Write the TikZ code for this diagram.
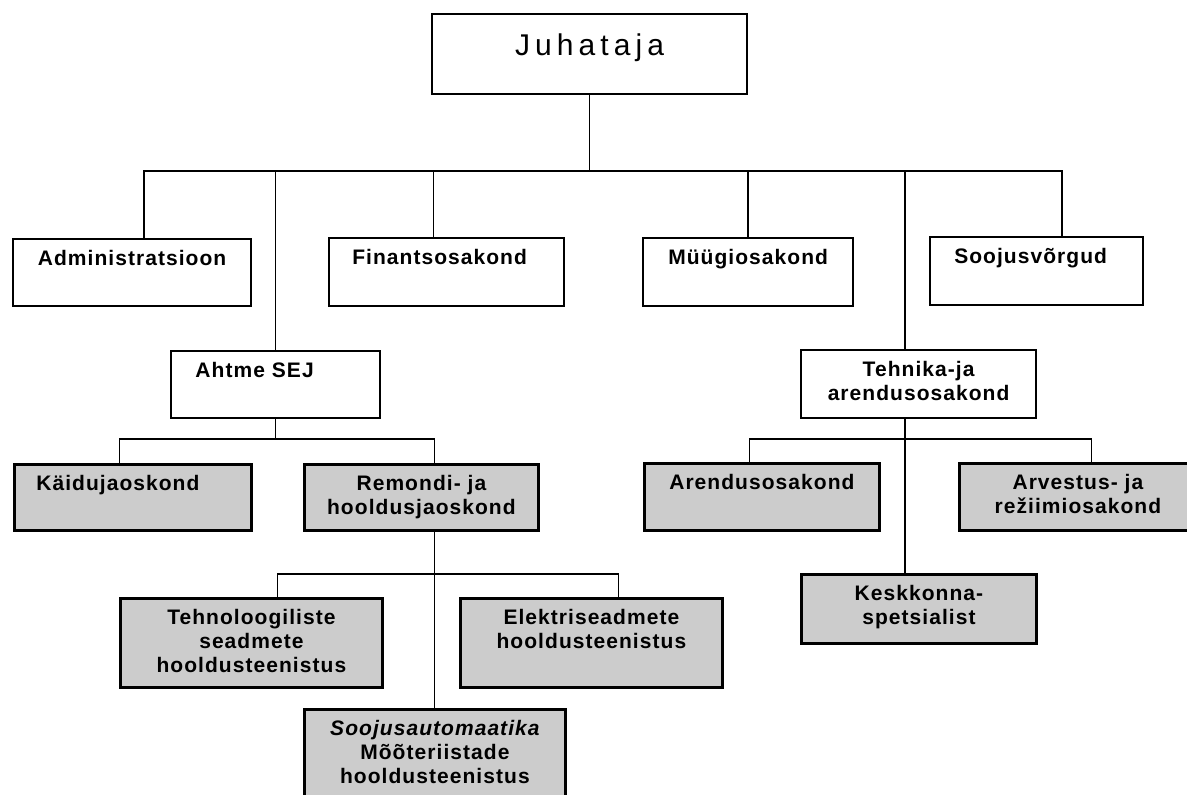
\documentclass[tikz,border=0pt]{standalone}
\usepackage{fontspec}
\setmainfont{Liberation Sans}
\newfontfamily\boxfont{Liberation Sans}[LetterSpace=5]
\newfontfamily\headfont{Liberation Sans}[LetterSpace=17]
\usepackage{tikz}
\definecolor{dither}{gray}{0.80}

\begin{document}
\begin{tikzpicture}[
  x=0.5pt, y=-0.5pt,
  sz/.style 2 args={minimum width=#1*0.5pt, minimum height=#2*0.5pt},
  wbox/.style={draw, line width=1.1pt, fill=white, anchor=north west, inner sep=0pt},
  gbox/.style={wbox, fill=dither, line width=1.4pt},
  txt/.style={anchor=north, inner sep=0pt, align=center,
              font=\boxfont\bfseries\fontsize{10.5}{12}\selectfont},
  conn/.style={line width=0.8pt}
]
  \useasboundingbox (0,0) rectangle (1187,794);
  \clip (0,0) rectangle (1187,794);

  % juhataja
  \node[wbox, sz={315}{80}] (juh) at (431,13) {};
  \node[anchor=north, inner sep=0pt, font=\headfont\fontsize{15}{18}\selectfont]
    (juh-t) at ([yshift=-10pt]juh.north) {Juhataja};

  % first level
  \node[wbox, sz={238}{67}] (adm) at (12,238) {};
  \node[wbox, sz={235}{68}] (fin) at (328,237) {};
  \node[wbox, sz={210}{68}] (myy) at (642,237) {};
  \node[wbox, sz={213}{68}] (soo) at (929,236) {};
  \node[wbox, sz={209}{67}] (aht) at (170,350) {};
  \node[wbox, sz={235}{68}] (teh) at (800,349) {};
  \node[txt] (adm-t) at ([yshift=-6pt]adm.north) {Administratsioon};
  \node[txt] (fin-t) at ([xshift=-3.5pt, yshift=-6pt]fin.north) {Finantsosakond};
  \node[txt] (myy-t) at ([yshift=-6pt]myy.north) {Müügiosakond};
  \node[txt] (soo-t) at ([xshift=-3pt, yshift=-6pt]soo.north) {Soojusvõrgud};
  \node[txt] (aht-t) at ([xshift=-10.5pt, yshift=-6pt]aht.north) {Ahtme SEJ};
  \node[txt] (teh-t) at ([yshift=-6pt]teh.north) {Tehnika-ja\\arendusosakond};

  % Ahtme SEJ
  \node[gbox, sz={237}{66}] (kai) at (13,463) {};
  \node[gbox, sz={234}{66}] (rem) at (303,463) {};
  \node[txt] (kai-t) at ([xshift=-7.5pt, yshift=-6pt]kai.north) {Käidujaoskond};
  \node[txt] (rem-t) at ([yshift=-6pt]rem.north) {Remondi- ja\\hooldusjaoskond};

  \node[gbox, sz={262}{89}] (tec) at (119,597) {};
  \node[gbox, sz={262}{89}] (ele) at (459,597) {};
  \node[gbox, sz={261}{100}] (sav) at (303,708) {};
  \node[txt] (tec-t) at ([yshift=-6pt]tec.north) {Tehnoloogiliste\\seadmete\\hooldusteenistus};
  \node[txt] (ele-t) at ([yshift=-6pt]ele.north) {Elektriseadmete\\hooldusteenistus};
  \node[txt] (sav-t) at ([yshift=-6pt]sav.north)
    {{\itshape Soojusautomaatika}\\Mõõteriistade\\hooldusteenistus};

  % Tehnika- ja arendusosakond
  \node[gbox, sz={235}{67}] (are) at (643,462) {};
  \node[gbox, sz={237}{67}] (arv) at (958,462) {};
  \node[gbox, sz={235}{69}] (kes) at (800,573) {};
  \node[txt] (are-t) at ([yshift=-6pt]are.north) {Arendusosakond};
  \node[txt] (arv-t) at ([yshift=-6pt]arv.north) {Arvestus- ja\\režiimiosakond};
  \node[txt] (kes-t) at ([yshift=-6pt]kes.north) {Keskkonna-\\spetsialist};

  % connectors
  \coordinate (bus1) at (589,171);
  \draw[conn] (juh.south) -- (juh.south |- bus1);
  \draw[conn] ([xshift=6pt]adm.north) |- (bus1);
  \draw[conn] (aht.north) |- (bus1);
  \draw[conn] ([xshift=-6.5pt]fin.north) |- (bus1);
  \draw[conn] (myy.north) |- (bus1);
  \draw[conn] ([xshift=-6.75pt]teh.north) |- (bus1);
  \draw[conn] ([xshift=12.75pt]soo.north) |- (bus1);

  \coordinate (bus2) at (275,439);
  \draw[conn] (aht.south) |- (bus2);
  \draw[conn] ([xshift=-6.75pt]kai.north) |- (bus2);
  \draw[conn] ([xshift=6.5pt]rem.north) |- (bus2);

  \coordinate (bus3) at (433,574);
  \draw[conn] ([xshift=6.5pt]rem.south) -- ([xshift=6.5pt]rem.south |- sav.north);
  \draw[conn] ([xshift=13pt]tec.north) |- (bus3);
  \draw[conn] ([xshift=13.5pt]ele.north) |- (bus3);

  \coordinate (bus4) at (904,439);
  \draw[conn] ([xshift=-6.75pt]teh.south) -- ([xshift=-6.75pt]teh.south |- kes.north);
  \draw[conn] ([xshift=-6.25pt]are.north) |- (bus4);
  \draw[conn] ([xshift=6.75pt]arv.north) |- (bus4);
\end{tikzpicture}
\end{document}
